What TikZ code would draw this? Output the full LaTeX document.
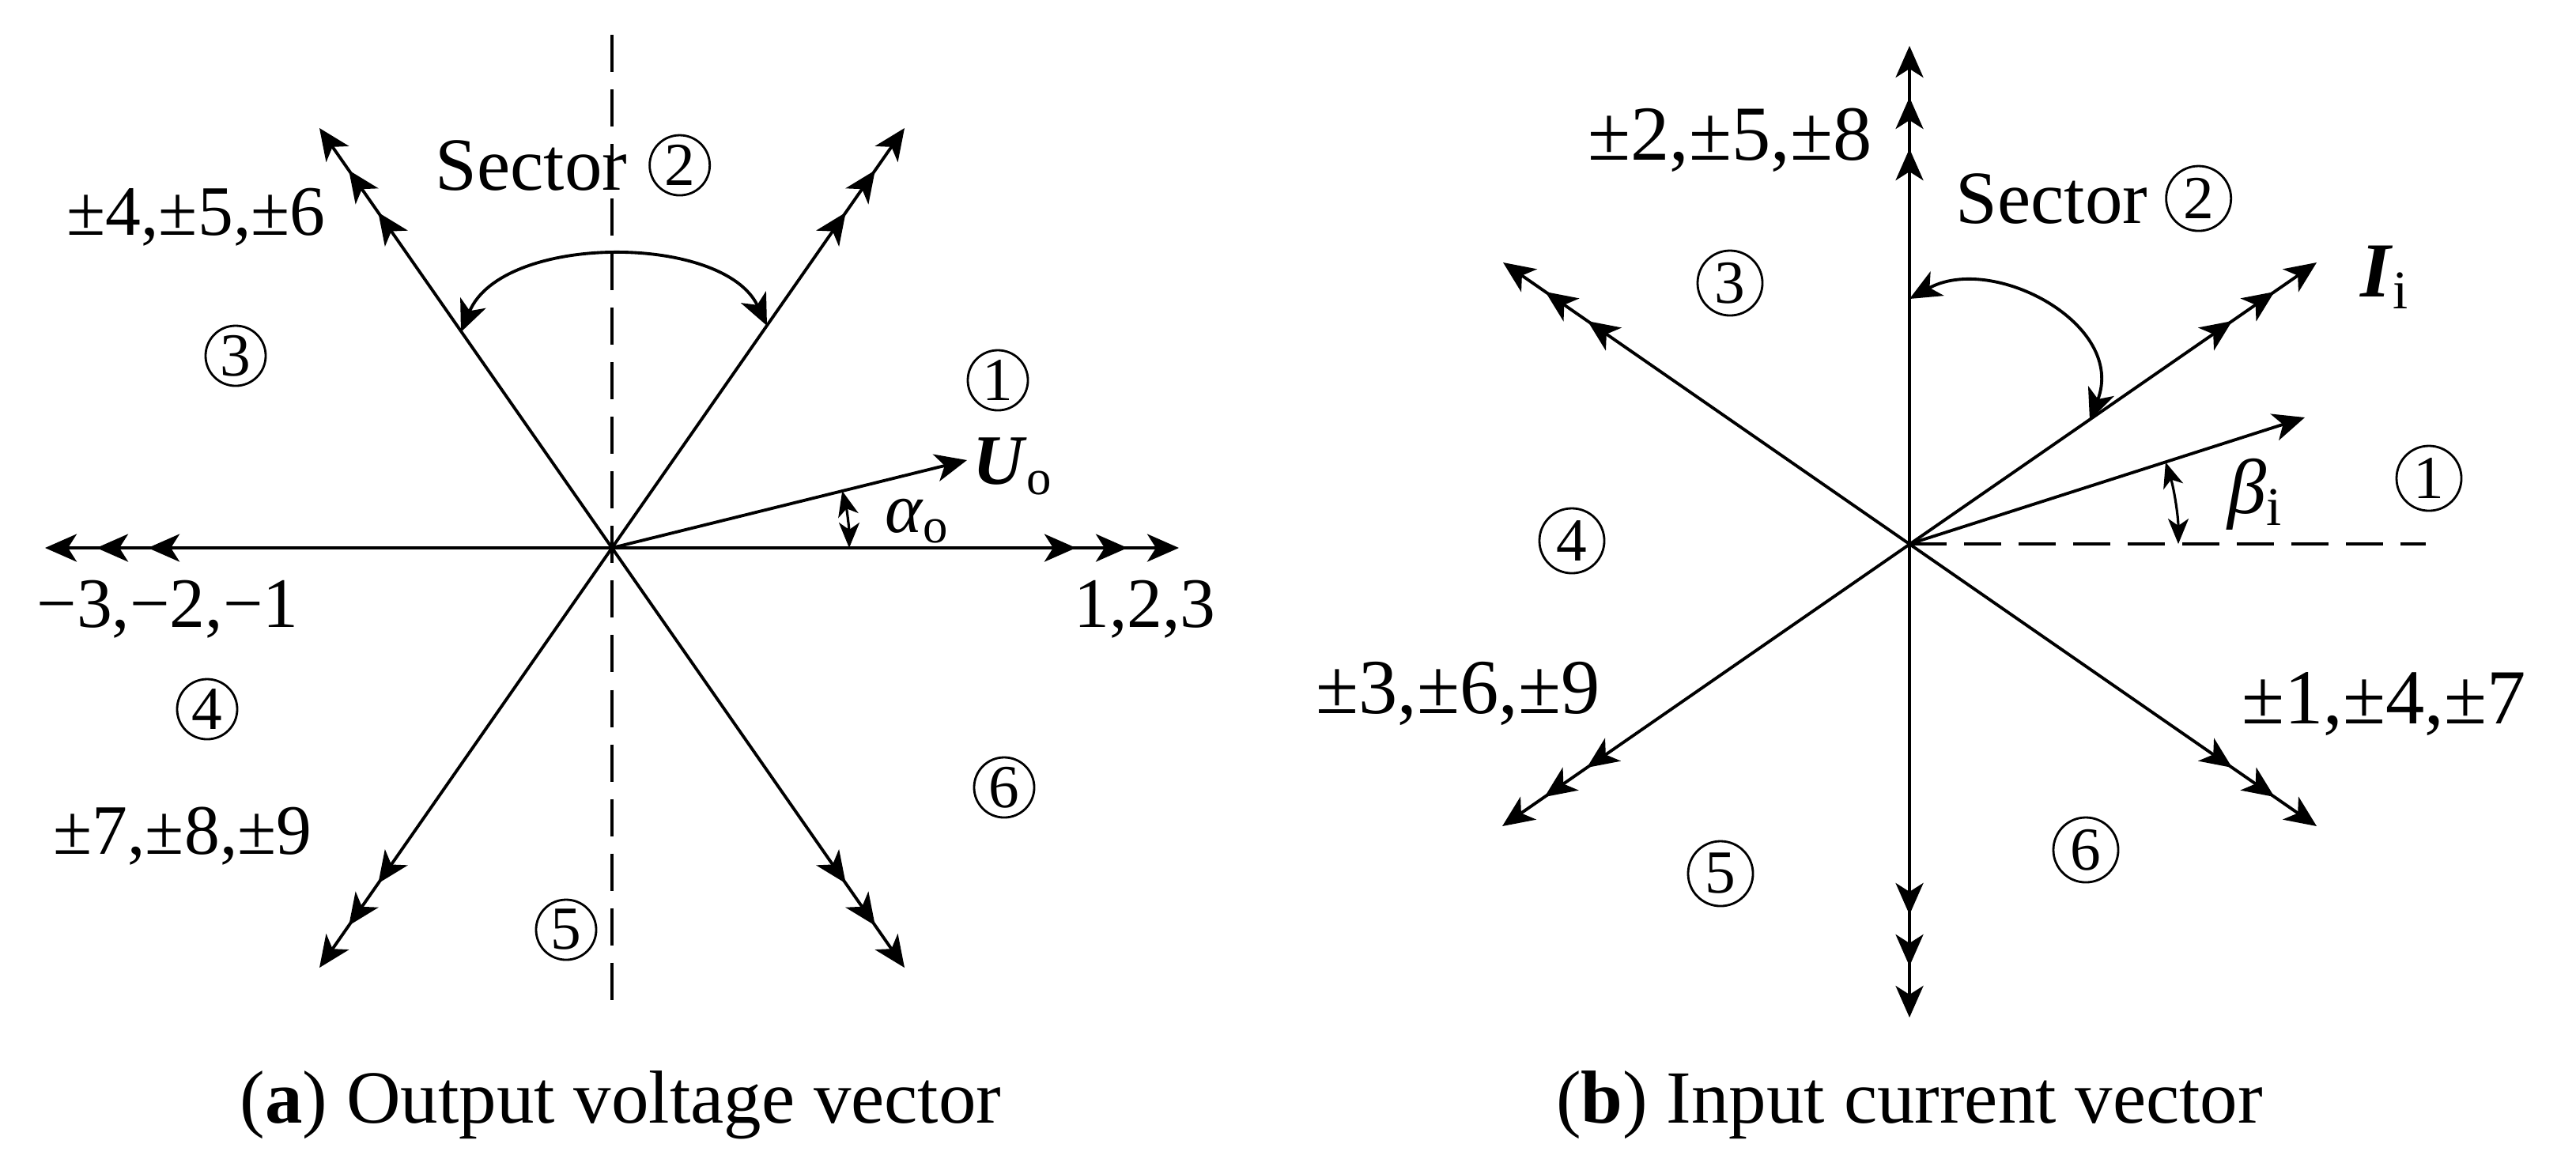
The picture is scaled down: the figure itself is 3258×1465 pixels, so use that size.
\documentclass[tikz,border=0pt]{standalone}
\usepackage{fontspec}
\setmainfont{Liberation Serif}
\usetikzlibrary{arrows.meta, positioning}
\tikzset{
    tri/.tip={Stealth[length=4mm,width=3.5mm,inset=1.1mm,sep=2.5mm]Stealth[length=4mm,width=3.5mm,inset=1.1mm,sep=2.5mm]Stealth[length=4mm,width=3.5mm,inset=1.1mm]},
    one/.tip={Stealth[length=4mm,width=3.5mm,inset=1.1mm]},
    tiny/.tip={Stealth[length=3.2mm,width=2.6mm,inset=0.9mm]},
    axis/.style={tri-tri},
    vec/.style={-one},
    sectarc/.style={one-one},
    angarc/.style={tiny-tiny, line width=0.9pt},
    dashline/.style={dash pattern=on 4.7mm off 2.2mm},
    lab/.style={inner sep=0pt, font=\fontsize{25.5}{30}\selectfont},
    rlab/.style={inner sep=0pt, font=\fontsize{28}{33}\selectfont},
    sectlabel/.style={inner sep=0pt, font=\fontsize{27}{32}\selectfont},
    sect/.style={circle, draw, line width=0.8pt, inner sep=0pt, minimum size=7.6mm,
           font=\fontsize{22}{26}\selectfont},
}

\begin{document}
\begin{tikzpicture}[x=0.01cm, y=-0.01cm, line width=1.1pt]
  \useasboundingbox (0,0) rectangle (3258,1465);

% (a) output voltage vector
  \coordinate (lO)  at (774,693);
  \coordinate (lW)  at (57,693);
  \coordinate (lE)  at (1491,693);
  \coordinate (lNW) at (404,162);
  \coordinate (lNE) at (1144,162);
  \coordinate (lSW) at (404,1224);
  \coordinate (lSE) at (1144,1224);
  \coordinate (lN)  at (774,44);
  \coordinate (lS)  at (774,1280);
  \coordinate (lU)  at (1223,582);
  \coordinate (lA)  at (1074,693);
  \coordinate (lL)  at (583,420);
  \coordinate (lR)  at (970,412);

  \draw[axis]     (lW)  -- (lE);
  \draw[axis]     (lNW) -- (lSE);
  \draw[axis]     (lNE) -- (lSW);
  \draw[dashline] (lN)  -- (lS);
  \draw[vec]      (lO)  -- (lU);
  \draw[angarc]   (lA) arc[start angle=0, end angle=-13.9, radius=300];
  \draw[sectarc]  (lL) .. controls (635,295) and (915,295) .. (lR);

  \node[sectlabel, anchor=base]  (lSector) at (672,240)  {Sector};
  \node[sect, right=2.5mm of lSector]      (lTwo)    {2};
  \node[lab, anchor=base]        (lPM456)  at (248,297)  {±4,±5,±6};
  \node[sect]                    (lThree)  at (298,450)  {3};
  \node[sect]                    (lOne)    at (1262,481) {1};
  \node[lab, anchor=base]        (lUo)     at (1281,612) {\textbf{\textit{U}}\textsubscript{o}};
  \node[lab, anchor=base]        (lAlpha)  at (1160,673) {\textit{α}\textsubscript{o}};
  \node[lab, anchor=base]        (lNeg)    at (212,793)  {−3,−2,−1};
  \node[lab, anchor=base]        (lPos)    at (1448,793) {1,2,3};
  \node[sect]                    (lFour)   at (262,897)  {4};
  \node[lab, anchor=base]        (lPM789)  at (231,1080) {±7,±8,±9};
  \node[sect]                    (lSix)    at (1270,996) {6};
  \node[sect]                    (lFive)   at (716,1176) {5};
  \node[sectlabel, anchor=base]  (lCap)    at (785,1420) {(\textbf{a}) Output voltage vector};

% (b) input current vector
  \coordinate (rO)  at (2415,688);
  \coordinate (rN)  at (2415,58);
  \coordinate (rS)  at (2415,1287);
  \coordinate (rNW) at (1901,332);
  \coordinate (rSE) at (2930,1045);
  \coordinate (rNE) at (2930,332);
  \coordinate (rSW) at (1900,1045);
  \coordinate (rB)  at (2915,528);
  \coordinate (rE)  at (3068,688);
  \coordinate (rA)  at (2755,688);
  \coordinate (rT)  at (2415,378);
  \coordinate (rD)  at (2643,532);

  \draw[axis]     (rN)  -- (rS);
  \draw[axis]     (rNW) -- (rSE);
  \draw[axis]     (rNE) -- (rSW);
  \draw[dashline] (rO)  -- (rE);
  \draw[vec]      (rO)  -- (rB);
  \draw[angarc]   (rA) arc[start angle=0, end angle=-17.7, radius=340];
  \draw[sectarc]  (rT) .. controls (2520,320) and (2690,410) .. (rD);

  \node[rlab, anchor=base]       (rPM258)  at (2188,202) {±2,±5,±8};
  \node[sectlabel, anchor=base]  (rSector) at (2595,282) {Sector};
  \node[sect, minimum size=8.2mm, right=2mm of rSector] (rTwo) {2};
  \node[sect, minimum size=8.2mm] (rThree) at (2188,358) {3};
  \node[rlab, anchor=base]       (rIi)     at (3016,375) {\textbf{\textit{I}}\textsubscript{i}};
  \node[sect, minimum size=8.2mm] (rOne)   at (3072,605) {1};
  \node[rlab, anchor=base]       (rBeta)   at (2852,649) {\textit{β}\textsubscript{i}};
  \node[sect, minimum size=8.2mm] (rFour)  at (1988,684) {4};
  \node[rlab, anchor=base]       (rPM369)  at (1844,902) {±3,±6,±9};
  \node[rlab, anchor=base]       (rPM147)  at (3015,915) {±1,±4,±7};
  \node[sect, minimum size=8.2mm] (rSix)   at (2638,1075) {6};
  \node[sect, minimum size=8.2mm] (rFive)  at (2176,1105) {5};
  \node[sectlabel, anchor=base]  (rCap)    at (2415,1420) {(\textbf{b}) Input current vector};

\end{tikzpicture}
\end{document}
